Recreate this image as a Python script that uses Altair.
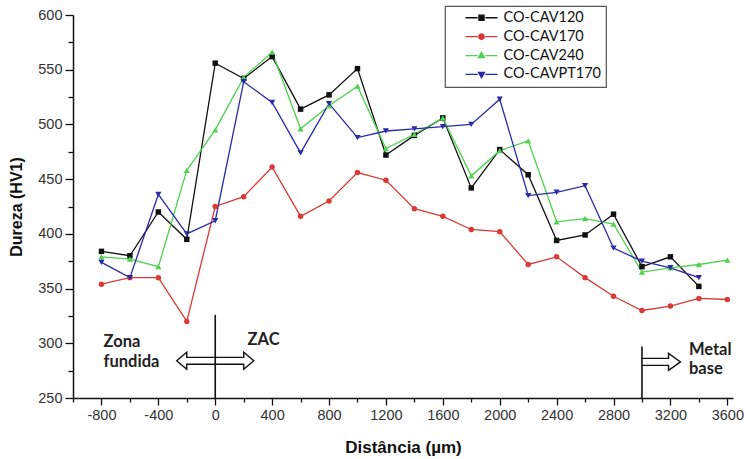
import altair as alt
import pandas as pd

# Measurement positions (µm) and hardness profiles (HV1)
positions = [-800, -600, -400, -200, 0, 200, 400, 600, 800, 1000, 1200, 1400,
             1600, 1800, 2000, 2200, 2400, 2600, 2800, 3000, 3200, 3400, 3600]

series = ["CO-CAV120", "CO-CAV170", "CO-CAV240", "CO-CAVPT170"]

cav120 = [384, 380, 420, 395, 556, 542, 562, 514, 527, 551, 472, 490,
          506, 442, 477, 454, 394, 399, 418, 370, 379, 352]
cav170 = [354, 360, 360, 320, 425, 434, 461, 416, 430, 456, 449, 423,
          416, 404, 402, 372, 379, 360, 343, 330, 334, 341, 340]
cav240 = [379, 377, 370, 458, 495, 543, 566, 496, 517, 535, 478, 491,
          506, 453, 476, 485, 411, 414, 409, 365, 369, 372, 376]
cavpt170 = [374, 360, 436, 400, 412, 539, 520, 474, 519, 488, 494, 496,
            498, 500, 523, 435, 438, 444, 387, 375, 369, 360]

colors = ["#111111", "#d93a36", "#4fd24f", "#2a2aa8"]
markers = ["square", "circle", "triangle-up", "triangle-down"]
marker_sizes = [30, 30, 38, 38]

# Axis tick positions (major ticks are labelled, minor ones are not)
x_major = list(range(-800, 3601, 400))
x_minor = list(range(-1000, 3601, 400))
y_major = list(range(250, 601, 50))
y_minor = list(range(275, 600, 50))

# Legend glyphs: a short line on each side of the series marker
stub = "M-1,0L-0.24,0M0.24,0L1,0"
legend_glyphs = [
    stub + "M-0.16,-0.16L0.16,-0.16L0.16,0.16L-0.16,0.16Z",
    stub + "M-0.17,0A0.17,0.17,0,1,0,0.17,0A0.17,0.17,0,1,0,-0.17,0Z",
    stub + "M0,-0.2L0.19,0.13L-0.19,0.13Z",
    stub + "M0,0.2L0.19,-0.13L-0.19,-0.13Z",
]

# Zone annotations
zone_rule_x = [0, 3000]
zone_rule_top = [326, 297]
double_arrow = "M-1,0L-0.74,-0.22L-0.74,-0.09L0.74,-0.09L0.74,-0.22L1,0L0.74,0.22L0.74,0.09L-0.74,0.09L-0.74,0.22Z"
right_arrow = "M0,-0.18L1.38,-0.18L1.38,-0.44L2,0L1.38,0.44L1.38,0.18L0,0.18"
note_text = ["Zona", "fundida", "ZAC", "Metal", "base"]
note_x = [-785, -785, 227, 3330, 3330]
note_y = [297, 278.5, 298.4, 289.5, 272]

rows = []
for name, vals in zip(series, [cav120, cav170, cav240, cavpt170]):
    for p, v in zip(positions, vals):
        rows.append({"serie": name, "dist": p, "hv": v})
df = pd.DataFrame(rows)

x_scale = alt.Scale(domain=[-1000, 3640], nice=False, zero=False)
y_scale = alt.Scale(domain=[250, 600], nice=False, zero=False)
color_scale = alt.Scale(domain=series, range=colors)

axis_font = "Liberation Sans"
common = dict(grid=False, tickColor="#111111", tickWidth=1.3)
x_axis = alt.Axis(
    title="Distância (µm)", orient="bottom", values=x_major,
    labelExpr="toString(datum.value)", labelOverlap=False, tickSize=7,
    labelFont=axis_font, labelFontSize=14.5, labelColor="#333333", labelPadding=3,
    domainColor="#111111", domainWidth=1.5,
    titleFont=axis_font, titleFontSize=17, titleFontWeight="bold",
    titleColor="#111111", titleY=54, titleBaseline="alphabetic", **common,
)
y_axis = alt.Axis(
    title="Dureza (HV1)", orient="left", values=y_major,
    labelExpr="toString(datum.value)", labelOverlap=False, tickSize=8,
    labelFont=axis_font, labelFontSize=14.5, labelColor="#333333", labelPadding=3,
    domainColor="#111111", domainWidth=1.5,
    titleFont=axis_font, titleFontSize=16, titleFontWeight="bold",
    titleColor="#111111", titleX=-52, titleBaseline="alphabetic", **common,
)
x_minor_axis = alt.Axis(title=None, orient="bottom", values=x_minor, tickSize=4,
                        labels=False, domain=False, **common)
y_minor_axis = alt.Axis(title=None, orient="left", values=y_minor, tickSize=5,
                        labels=False, domain=False, **common)

base = alt.Chart(df)
X = lambda f: alt.X(f, axis=None)
Y = lambda f: alt.Y(f, axis=None)

lines = base.mark_line(strokeWidth=1.3).encode(
    x=alt.X("dist:Q", scale=x_scale, axis=x_axis),
    y=alt.Y("hv:Q", scale=y_scale, axis=y_axis),
    color=alt.Color("serie:N", scale=color_scale, legend=None),
    detail="serie:N",
)

point_layers = []
for name, shp, sz in zip(series, markers, marker_sizes):
    point_layers.append(
        base.transform_filter(alt.datum.serie == name)
        .mark_point(filled=True, shape=shp, size=sz, opacity=1)
        .encode(
            x=X("dist:Q"),
            y=Y("hv:Q"),
            color=alt.Color("serie:N", scale=color_scale, legend=None),
        )
    )

legend_def = alt.Legend(
    title=None, orient="none", legendX=372, legendY=-9, direction="vertical",
    labelFont="Lato", labelFontSize=14.5, labelColor="#111111",
    symbolSize=1024, symbolStrokeWidth=1.3, symbolOpacity=1,
    clipHeight=14.5, rowPadding=2.9, padding=4.5, symbolOffset=15, labelOffset=5,
    strokeColor="#555555", fillColor="white",
)
legend_layer = base.mark_point(filled=True, opacity=1, size=1024, clip=True).encode(
    x=X("dist:Q"),
    y=alt.YDatum(0, axis=None),
    fill=alt.Fill("serie:N", scale=alt.Scale(domain=series, range=colors), legend=legend_def),
    stroke=alt.Stroke("serie:N", scale=alt.Scale(domain=series, range=colors), legend=legend_def),
    shape=alt.Shape("serie:N", scale=alt.Scale(domain=series, range=legend_glyphs), legend=legend_def),
)

rules_df = pd.DataFrame({"x": zone_rule_x, "top": zone_rule_top})
zone_rules = alt.Chart(rules_df).mark_rule(color="#111111", strokeWidth=1.6).encode(
    x=alt.X("x:Q", axis=x_minor_axis),
    y=alt.Y("top:Q", axis=y_minor_axis),
    y2=alt.datum(250),
)

arrow_df = pd.DataFrame({"x": [0, 3000], "y": [284, 283]})
arrow_both = alt.Chart(arrow_df.iloc[[0]]).mark_point(
    shape=double_arrow, size=77 * 77, filled=False, stroke="#111111",
    strokeWidth=1.4, opacity=1
).encode(x=X("x:Q"), y=Y("y:Q"))
arrow_right = alt.Chart(arrow_df.iloc[[1]]).mark_point(
    shape=right_arrow, size=38.5 * 38.5, filled=False, stroke="#111111",
    strokeWidth=1.4, opacity=1
).encode(x=X("x:Q"), y=Y("y:Q"))

notes_df = pd.DataFrame({"x": note_x, "y": note_y, "t": note_text})
notes = alt.Chart(notes_df).mark_text(
    font="Lato", fontSize=16.5, fontWeight="bold", color="#222222",
    align="left", baseline="alphabetic"
).encode(x=X("x:Q"), y=Y("y:Q"), text="t:N")

chart = alt.layer(
    legend_layer, lines, *point_layers, zone_rules, arrow_both, arrow_right, notes
).resolve_axis(x="independent", y="independent").properties(
    width=660, height=383,
    autosize=alt.AutoSizeParams(type="none"),
    padding={"left": 73, "top": 15, "right": 13, "bottom": 61},
    background="white",
).configure_view(stroke=None).configure_legend(strokeWidth=1.2)

chart.save("out.html", embed_options={"renderer": "svg", "actions": False})
